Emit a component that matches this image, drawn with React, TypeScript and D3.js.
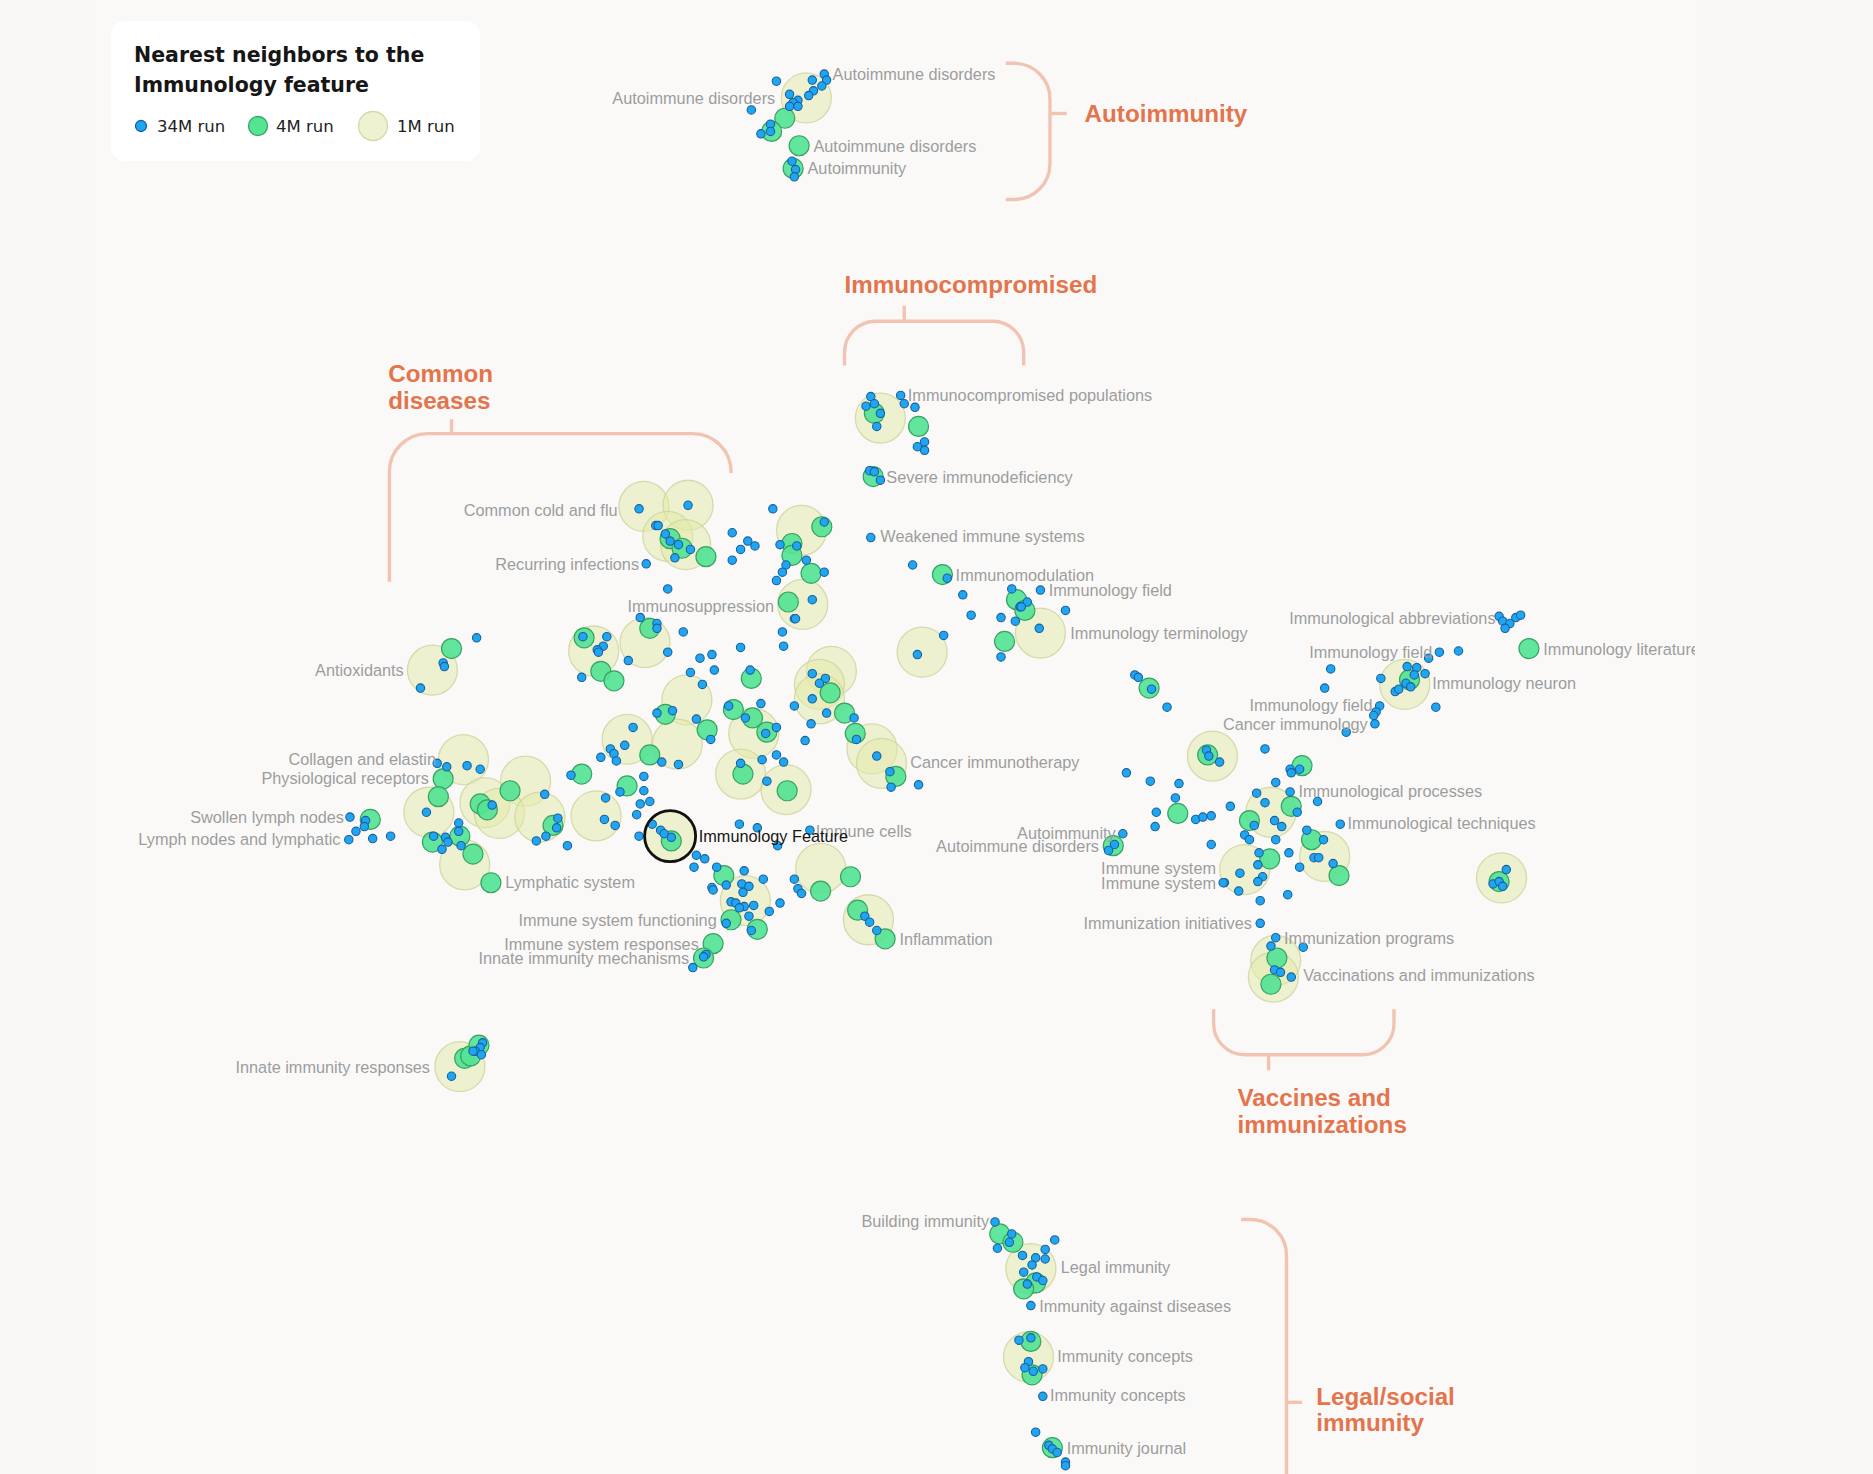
import React from 'react';
import * as d3 from 'd3';

const W = 1873;
const H = 1474;

// map coordinates of each neighbour (map units)
const run1M: [number, number][] = [
  [675, 82], [737, 350], [539, 424], [576, 423], [559, 449], [574, 456], [671, 444], [672, 506],
  [497, 545], [540, 538], [362, 561], [575, 586], [525, 619], [567, 623], [631, 614], [620, 648],
  [658, 661], [696, 562], [686, 573], [686, 585], [730, 627], [738, 639], [772, 546], [871, 530],
  [388, 636], [359, 680], [406, 672], [440, 654], [418, 681], [452, 684], [499, 683], [389, 724],
  [561, 700], [687, 727], [624, 754], [727, 770], [1015, 633], [1064, 680], [1042, 728], [1109, 717],
  [1176, 573], [1257, 735], [1068, 804], [1066, 818], [385, 893], [863, 1062], [861, 1136],
];

const run4M: [number, number][] = [
  [657, 99], [646, 110], [669, 122], [664, 141],
  [732, 346], [769, 357], [731, 399],
  [561, 451], [571, 459], [591, 466], [663, 455], [663, 465], [679, 480], [688, 441], [660, 504],
  [789, 481], [851, 502], [858, 511], [841, 537],
  [489, 534], [544, 526], [503, 562], [514, 570], [629, 568], [557, 598], [592, 611], [614, 594],
  [630, 601], [642, 613], [544, 632], [487, 648], [525, 658], [622, 648], [659, 662], [695, 580],
  [707, 597], [716, 614], [750, 650], [562, 704], [463, 691],
  [378, 543], [371, 652], [367, 667], [402, 673], [408, 678], [427, 662], [385, 700], [362, 705],
  [396, 715], [411, 739], [310, 686],
  [606, 733], [712, 734], [687, 746], [612, 770], [634, 778], [597, 790], [589, 802], [718, 762], [741, 786],
  [962, 576], [1011, 632], [1090, 641], [1081, 675], [1046, 687], [986, 681], [1063, 719], [1098, 703],
  [1121, 733], [1255, 738], [932, 708], [1180, 569], [1280, 543], [1069, 802], [1064, 824],
  [389, 886], [394, 884], [401, 875],
  [837, 1033], [848, 1040], [867, 1074], [857, 1079], [863, 1123], [864, 1151], [881, 1212],
];

const run34M: [number, number][] = [
  // autoimmunity
  [650, 68], [680, 67], [690, 62], [692, 67], [688, 72], [681, 76], [677, 80], [661, 79], [668, 84],
  [664, 86], [661, 89], [668, 89], [629, 92], [645, 104], [645, 110], [637, 112], [663, 135], [666, 142], [665, 148],
  // immunocompromised
  [729, 332], [754, 331], [757, 338], [766, 341], [725, 340], [732, 338], [737, 346], [734, 357],
  [774, 370], [768, 374], [774, 377], [728, 394], [732, 395], [737, 402], [729, 450],
  // common diseases, top
  [535, 426], [576, 423], [549, 440], [551, 440], [557, 447], [561, 453], [568, 456], [578, 460],
  [565, 467], [541, 472], [613, 446], [626, 453], [632, 457], [620, 460], [613, 469], [647, 426],
  [690, 437], [653, 456], [667, 457], [675, 469], [658, 473], [655, 479], [650, 486], [690, 479],
  [559, 493], [680, 502], [665, 518], [764, 473], [793, 484], [806, 498], [847, 493], [871, 494],
  [813, 515], [838, 517], [850, 520], [892, 511], [860, 504], [854, 508], [790, 532], [768, 548],
  [838, 550], [855, 508], [870, 526],
  // centre
  [536, 517], [550, 522], [550, 526], [572, 529], [488, 533], [508, 533], [505, 541], [500, 544],
  [501, 546], [559, 546], [526, 553], [620, 542], [655, 529], [656, 541], [586, 551], [596, 548],
  [598, 561], [578, 563], [588, 573], [487, 567], [666, 518], [628, 561], [637, 589], [610, 591],
  [624, 601], [650, 609], [641, 614], [665, 591], [679, 606], [674, 620], [692, 597], [715, 601],
  [717, 619], [680, 564], [691, 568], [686, 572], [680, 585], [550, 597], [563, 595], [583, 602],
  [595, 619], [530, 609], [523, 624], [511, 627], [514, 631], [516, 637], [503, 634], [554, 638],
  [568, 640], [734, 633], [745, 646], [746, 659], [769, 657], [650, 632], [638, 636], [656, 638],
  [620, 639], [642, 654], [478, 649], [539, 650], [539, 662], [519, 663], [536, 673], [544, 671],
  [533, 682], [507, 668], [506, 686], [515, 691], [456, 665], [467, 685], [466, 693], [457, 700],
  [475, 708], [546, 690], [553, 695], [556, 698], [562, 701], [535, 700], [583, 716], [590, 719],
  [581, 726], [600, 726], [619, 690], [634, 693], [678, 695], [651, 708], [623, 729], [639, 736],
  [665, 736], [668, 744], [671, 748], [596, 743], [608, 741], [621, 740], [627, 742], [622, 747], [597, 745],
  // left
  [399, 534], [371, 555], [372, 558], [352, 576], [366, 639], [374, 642], [391, 641], [402, 644],
  [357, 680], [412, 674], [384, 689], [384, 696], [363, 700], [373, 701], [375, 705], [370, 711],
  [386, 708], [449, 704], [293, 684], [306, 687], [305, 692], [298, 696], [292, 703], [312, 702], [327, 700],
  // lower centre
  [653, 756], [644, 763], [612, 755], [616, 756], [623, 759], [631, 758], [619, 760], [627, 767],
  [608, 773], [629, 779], [591, 799], [589, 801], [580, 810], [724, 767], [728, 772], [734, 779],
  [940, 698], [933, 707], [928, 712],
  // right
  [950, 565], [953, 567], [964, 577], [977, 592], [1010, 628], [1012, 633], [1021, 638], [1059, 627],
  [943, 647], [963, 654], [987, 656], [984, 668], [968, 680], [967, 692], [1001, 686], [1007, 684],
  [1014, 683], [1030, 675], [1014, 707], [1025, 739], [1055, 773],
  [1255, 516], [1258, 520], [1264, 522], [1260, 526], [1269, 517], [1273, 515], [1205, 546], [1221, 545],
  [1196, 551], [1114, 560], [1109, 576], [1178, 558], [1186, 559], [1193, 564], [1184, 565], [1156, 568],
  [1177, 572], [1181, 575], [1168, 579], [1171, 577], [1202, 592], [1155, 591], [1152, 596], [1150, 599],
  [1151, 606], [1127, 613],
  [1080, 644], [1088, 644], [1081, 647], [1068, 655], [1080, 663], [1103, 671], [1052, 664], [1059, 672],
  [1086, 680], [1122, 690], [1067, 687], [1073, 692], [1050, 691], [1042, 699], [1046, 703], [1068, 703],
  [1094, 695], [1108, 703], [1054, 714], [1079, 714], [1100, 718], [1104, 718], [1088, 726], [1116, 723],
  [1053, 724], [1038, 731], [1057, 734], [1053, 738], [1024, 739], [1037, 746], [1055, 754], [1078, 749],
  [1068, 785], [1064, 792], [1091, 793], [1067, 812], [1072, 814], [1081, 818],
  [1250, 740], [1255, 738], [1258, 742], [1261, 728],
  // innate immunity responses
  [404, 873], [402, 877], [398, 880], [396, 880], [403, 883], [378, 901],
  // legal / social
  [833, 1023], [847, 1033], [845, 1040], [835, 1045], [883, 1038], [875, 1046], [856, 1051], [867, 1053],
  [875, 1054], [864, 1059], [857, 1065], [868, 1069], [873, 1072], [860, 1075], [863, 1093], [853, 1122],
  [863, 1120], [861, 1140], [858, 1145], [865, 1148], [873, 1146], [873, 1169], [867, 1199], [878, 1210],
  [881, 1213], [885, 1216], [892, 1224], [892, 1227],
];

const termLabels: [string, number, number, 'start' | 'end'][] = [
  ['Autoimmune disorders', 649, 82, 'end'],
  ['Autoimmune disorders', 697, 62, 'start'],
  ['Autoimmune disorders', 681, 122, 'start'],
  ['Autoimmunity', 676, 141, 'start'],
  ['Immunocompromised populations', 760, 331, 'start'],
  ['Severe immunodeficiency', 742, 399, 'start'],
  ['Weakened immune systems', 737, 449, 'start'],
  ['Common cold and flu', 517, 427, 'end'],
  ['Recurring infections', 535, 472, 'end'],
  ['Immunosuppression', 648, 507, 'end'],
  ['Immunomodulation', 800, 481, 'start'],
  ['Immunology field', 878, 494, 'start'],
  ['Immunology terminology', 896, 530, 'start'],
  ['Antioxidants', 338, 561, 'end'],
  ['Collagen and elastin', 365, 635, 'end'],
  ['Physiological receptors', 359, 651, 'end'],
  ['Swollen lymph nodes', 288, 684, 'end'],
  ['Lymph nodes and lymphatic', 285, 702, 'end'],
  ['Lymphatic system', 423, 738, 'start'],
  ['Cancer immunotherapy', 762, 638, 'start'],
  ['Immune cells', 683, 696, 'start'],
  ['Immune system functioning', 600, 770, 'end'],
  ['Immune system responses', 585, 790, 'end'],
  ['Innate immunity mechanisms', 577, 802, 'end'],
  ['Inflammation', 753, 786, 'start'],
  ['Innate immunity responses', 360, 893, 'end'],
  ['Immunological abbreviations', 1252, 517, 'end'],
  ['Immunology literature', 1292, 543, 'start'],
  ['Immunology field', 1199, 546, 'end'],
  ['Immunology neuron', 1199, 572, 'start'],
  ['Immunology field', 1149, 590, 'end'],
  ['Cancer immunology', 1145, 606, 'end'],
  ['Immunological processes', 1087, 662, 'start'],
  ['Immunological techniques', 1128, 689, 'start'],
  ['Autoimmunity', 934, 697, 'end'],
  ['Autoimmune disorders', 920, 708, 'end'],
  ['Immune system', 1018, 727, 'end'],
  ['Immune system', 1018, 739, 'end'],
  ['Immunization initiatives', 1048, 773, 'end'],
  ['Immunization programs', 1075, 785, 'start'],
  ['Vaccinations and immunizations', 1091, 816, 'start'],
  ['Building immunity', 828, 1022, 'end'],
  ['Legal immunity', 888, 1061, 'start'],
  ['Immunity against diseases', 870, 1093, 'start'],
  ['Immunity concepts', 885, 1135, 'start'],
  ['Immunity concepts', 879, 1168, 'start'],
  ['Immunity journal', 893, 1212, 'start'],
];

const feature = { name: 'Immunology Feature', pos: [561, 700] as [number, number] };

// cluster annotations: label lines, label anchor, bracket polyline (rounded), tick
const groups = [
  { lines: ['Autoimmunity'], at: [908, 95], brace: [[842, 53], [879, 53], [879, 167], [842, 167]], r: 30, tick: [[879, 95], [893, 95]] },
  { lines: ['Immunocompromised'], at: [707, 238], brace: [[707, 306], [707, 269], [857, 269], [857, 306]], r: 26, tick: [[757, 269], [757, 256]] },
  { lines: ['Common', 'diseases'], at: [325, 313], brace: [[326, 487], [326, 363], [612, 363], [612, 396]], r: 32, tick: [[378, 363], [378, 351]] },
  { lines: ['Vaccines and', 'immunizations'], at: [1036, 919], brace: [[1016, 845], [1016, 883], [1167, 883], [1167, 845]], r: 26, tick: [[1062, 883], [1062, 896]] },
  { lines: ['Legal/social', 'immunity'], at: [1102, 1169], brace: [[1039, 1021], [1077, 1021], [1077, 1320], [1039, 1320]], r: 30, tick: [[1077, 1174], [1090, 1174]] },
];

const legendItems = [
  { label: '34M run', r: 5.5, fill: '#1ea6f0', stroke: '#1b5f9e' },
  { label: '4M run', r: 9.5, fill: '#55e394', stroke: '#37a867' },
  { label: '1M run', r: 14.5, fill: '#eef2d1', stroke: '#d3d9a8' },
];

const x = d3.scaleLinear().domain([0, 1568]).range([0, W]);
const y = d3.scaleLinear().domain([0, 1234]).range([0, H]);
const k = W / 1568;

function rounded(pts: number[][], r: number) {
  const p = d3.path();
  const P = pts.map(([a, b]) => [x(a), y(b)]);
  p.moveTo(P[0][0], P[0][1]);
  for (let i = 1; i < P.length - 1; i++) p.arcTo(P[i][0], P[i][1], P[i + 1][0], P[i + 1][1], r * k);
  p.lineTo(P[P.length - 1][0], P[P.length - 1][1]);
  return p.toString();
}

const line = d3.line<number[]>().x(d => x(d[0])).y(d => y(d[1]));

const labelFont = '"Liberation Sans", Arial, sans-serif';

export default function App() {
  const legendX = [141, 258, 373];
  const legendTextX = [157, 276, 397];
  return (
    <svg width={W} height={H} style={{ position: 'absolute', left: 0, top: 0, display: 'block' }}>
      <defs>
        <clipPath id="plotClip">
          <rect x={0} y={0} width={x(1419)} height={H} />
        </clipPath>
      </defs>
      <rect width={W} height={H} fill="#f9f8f6" />
      <rect x={x(80)} y={0} width={x(1420) - x(80)} height={H} fill="#faf9f8" />

      {/* brackets */}
      <g fill="none" stroke="#f1c4b2" strokeWidth={3.4} strokeLinecap="butt">
        {groups.map((g, i) => (
          <g key={i}>
            <path d={rounded(g.brace, g.r)} />
            <path d={line(g.tick) || ''} />
          </g>
        ))}
      </g>
      <g fill="#e3744c" fontFamily={labelFont} fontWeight={700} fontSize={24.2}>
        {groups.map((g, i) =>
          g.lines.map((t, j) => (
            <text key={i + '-' + j} x={x(g.at[0])} y={y(g.at[1] + j * 22)} dominantBaseline="central">{t}</text>
          ))
        )}
      </g>

      {/* 1M run */}
      <g>
        {run1M.map((d, i) => (
          <circle key={i} cx={x(d[0])} cy={y(d[1])} r={25} fill="#e2eaa9" fillOpacity={0.52} stroke="#cdd59c" strokeOpacity={0.8} strokeWidth={1.3} />
        ))}
      </g>
      {/* 4M run */}
      <g>
        {run4M.map((d, i) => (
          <circle key={i} cx={x(d[0])} cy={y(d[1])} r={10} fill="#55e394" fillOpacity={0.92} stroke="#35a363" strokeWidth={1.2} />
        ))}
      </g>
      {/* 34M run */}
      <g>
        {run34M.map((d, i) => (
          <circle key={i} cx={x(d[0])} cy={y(d[1])} r={4.2} fill="#1ea6f0" stroke="#1b5f9e" strokeWidth={1.1} />
        ))}
      </g>

      {/* highlighted feature */}
      <circle cx={x(feature.pos[0])} cy={y(feature.pos[1])} r={25.5} fill="none" stroke="#111" strokeWidth={2.8} />

      <g clipPath="url(#plotClip)" fontFamily={labelFont} fontSize={16.3} fill="#9d9d9d">
        {termLabels.map(([t, lx, ly, a], i) => (
          <text key={i} x={x(lx)} y={y(ly)} textAnchor={a} dominantBaseline="central">{t}</text>
        ))}
      </g>
      <text x={x(585)} y={y(700)} fontFamily={labelFont} fontSize={16.3} fill="#151515" dominantBaseline="central">{feature.name}</text>

      {/* legend */}
      <g>
        <rect x={111} y={21} width={369} height={140} rx={14} fill="#ffffff" />
        <g fontFamily='"DejaVu Sans", sans-serif' fontWeight={700} fontSize={20.5} fill="#161616">
          <text x={134} y={55} dominantBaseline="central">Nearest neighbors to the</text>
          <text x={134} y={85} dominantBaseline="central">Immunology feature</text>
        </g>
        {legendItems.map((it, i) => (
          <g key={i}>
            <circle cx={legendX[i]} cy={126} r={it.r} fill={it.fill} stroke={it.stroke} strokeWidth={1.3} />
            <text x={legendTextX[i]} y={126} fontFamily='"DejaVu Sans", sans-serif' fontSize={16.5} fill="#222" dominantBaseline="central">{it.label}</text>
          </g>
        ))}
      </g>
    </svg>
  );
}
